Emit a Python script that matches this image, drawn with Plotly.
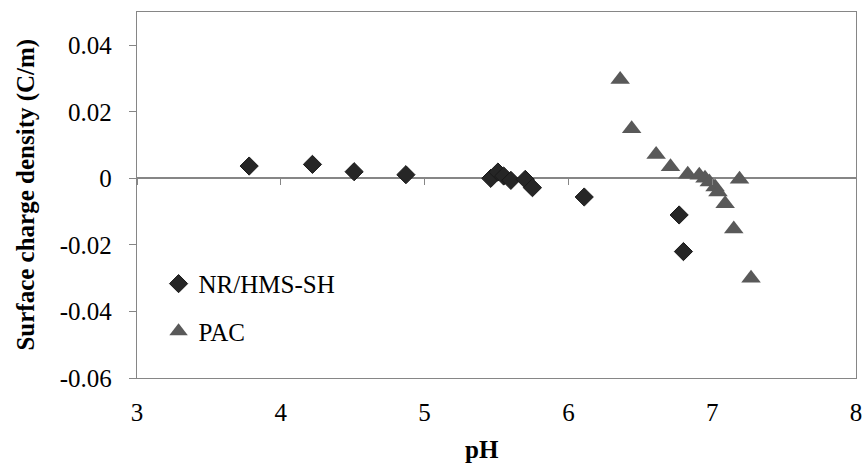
import plotly.graph_objects as go

# Surface charge density vs pH for two adsorbents
nr_ph = [3.78, 4.22, 4.51, 4.87, 5.46, 5.51, 5.55, 5.60, 5.70, 5.75, 6.11, 6.77, 6.80]
nr_sigma = [0.0037, 0.0042, 0.0020, 0.0011, 0.0000, 0.0019, 0.0007, -0.0006,
            -0.0003, -0.0028, -0.0056, -0.0110, -0.0220]

pac_ph = [6.36, 6.44, 6.61, 6.71, 6.83, 6.91, 6.95, 6.98, 7.02, 7.04, 7.09, 7.15, 7.19, 7.27]
pac_sigma = [0.0297, 0.0149, 0.0072, 0.0035, 0.0012, 0.0009, 0.0000, -0.0011,
             -0.0026, -0.0041, -0.0076, -0.0152, -0.0003, -0.0300]

x_ticks = [3, 4, 5, 6, 7, 8]
y_ticks = [-0.06, -0.04, -0.02, 0, 0.02, 0.04]
y_tick_text = ["-0.06", "-0.04", "-0.02", "0", "0.02", "0.04"]

x_range = [3, 8]
y_range = [-0.06, 0.05]

FONT = "Liberation Serif, Times New Roman, serif"
FS = 25
AXIS_GRAY = "#868686"

fig = go.Figure()
fig.add_trace(go.Scatter(
    x=nr_ph, y=nr_sigma, mode="markers", name="NR/HMS-SH",
    legendgroup="a",
    marker=dict(symbol="diamond", size=14, color="#262626",
                line=dict(color="#1a1a1a", width=1)),
))
fig.add_trace(go.Scatter(
    x=pac_ph, y=pac_sigma, mode="markers", name="PAC",
    legendgroup="b",
    marker=dict(symbol="triangle-up", size=17, color="#595959",
                line=dict(width=0)),
))

# position of the y = 0 line inside the plot area (fraction of the y domain)
zero_frac = (0 - y_range[0]) / (y_range[1] - y_range[0])

fig.update_layout(
    width=864, height=468,
    margin=dict(l=137, r=8, t=12, b=90),
    paper_bgcolor="white", plot_bgcolor="white",
    font=dict(family=FONT, size=FS, color="black"),
    showlegend=True,
    legend=dict(x=0.03, y=0.32, xanchor="left", yanchor="top",
                bgcolor="rgba(0,0,0,0)", font=dict(family=FONT, size=FS),
                tracegroupgap=12),
    xaxis=dict(
        range=x_range, tickvals=x_ticks, ticks="", showgrid=False,
        zeroline=False, showline=True, mirror=True,
        linecolor=AXIS_GRAY, linewidth=1.3, ticklabelstandoff=12,
        tickfont=dict(family=FONT, size=FS), automargin=False,
    ),
    xaxis2=dict(
        range=x_range, tickvals=x_ticks, overlaying="x", anchor="free",
        position=zero_frac, side="bottom", ticks="outside", ticklen=6,
        tickcolor=AXIS_GRAY, tickwidth=1.3, showticklabels=False,
        showgrid=False, zeroline=False, showline=False,
    ),
    yaxis=dict(
        range=y_range, tickvals=y_ticks, ticktext=y_tick_text,
        ticks="outside", ticklen=7, tickcolor=AXIS_GRAY, tickwidth=1.3,
        showgrid=False, zeroline=True, zerolinecolor=AXIS_GRAY,
        zerolinewidth=1.5, showline=True, mirror=True,
        linecolor=AXIS_GRAY, linewidth=1.3, ticklabelstandoff=12,
        tickfont=dict(family=FONT, size=FS), automargin=False,
    ),
    annotations=[
        dict(text="<b>pH</b>", xref="paper", yref="paper",
             x=0.48, y=-0.194, xanchor="center", yanchor="middle",
             showarrow=False, font=dict(family=FONT, size=FS)),
        dict(text="<b>Surface charge density (C/m)</b>", xref="paper",
             yref="paper", x=-0.155, y=0.5, xanchor="center", yanchor="middle",
             textangle=-90, showarrow=False, font=dict(family=FONT, size=FS)),
    ],
)

# invisible trace so the overlay axis carrying the y = 0 ticks is drawn
fig.add_trace(go.Scatter(x=[x_range[0]], y=[0], xaxis="x2", mode="markers",
                         marker=dict(opacity=0), showlegend=False,
                         hoverinfo="skip"))

fig.write_html("out.html")
